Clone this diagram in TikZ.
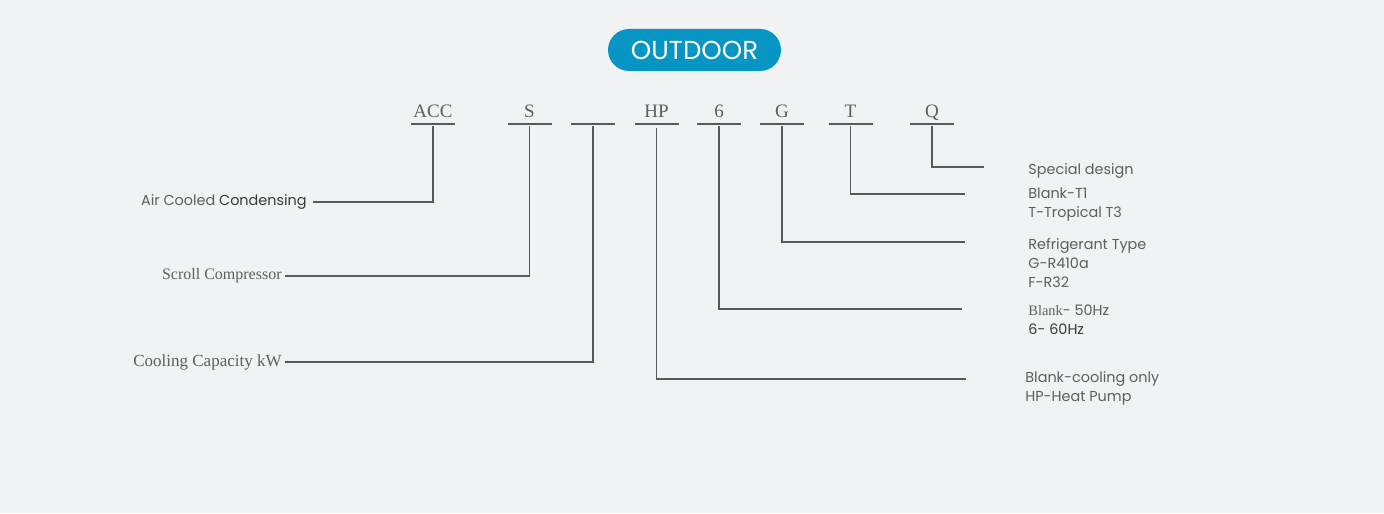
\documentclass[tikz,border=0pt]{standalone}
\usepackage{fontspec}
\setmainfont{Liberation Serif}
\setsansfont{Poppins}
\usetikzlibrary{calc,positioning}
\definecolor{bggrey}{HTML}{F1F2F4}
\definecolor{pillblue}{HTML}{0796C3}
\definecolor{linegrey}{HTML}{595959}
\definecolor{txtgrey}{HTML}{5E5E5E}
\definecolor{darkgrey}{HTML}{3A3A3A}
\tikzset{
  bar/.style={fill=linegrey, inner sep=0pt, minimum width=22pt, minimum height=1pt},
  codetxt/.style={font=\fontsize{9.5}{10}\selectfont, text=txtgrey, inner sep=0pt, anchor=base},
  lead/.style={draw=linegrey, line width=0.7pt},
  lefttxt/.style={anchor=east, inner sep=1.5pt, text=txtgrey},
  righttxt/.style={anchor=west, inner sep=0pt, text=txtgrey, align=left,
    font=\sffamily\fontsize{7.2}{9.5}\selectfont},
}

\begin{document}
\begin{tikzpicture}[x=0.5pt, y=-0.5pt]
			%%%%% START %%%%%
			
			\fill[bggrey] (0, 0) rectangle (1384, 513);
			\useasboundingbox (0, 0) rectangle (1384, 513);
			
			\node[fill=pillblue, rounded corners=10.5pt, minimum width=86.5pt, minimum height=21pt,
			  inner sep=0pt, text=white, font=\sffamily\fontsize{13}{13}\selectfont] (outdoor) at (694.5, 50) {OUTDOOR};
			
			% bars under the code letters
			\foreach \name/\x in {acc/433, s/529.5, blank/593, hp/656.5, six/719, g/782, t/850.5, q/932}
			  \node[bar] (b\name) at (\x, 124.5) {};
			
			\foreach \name/\txt in {acc/ACC, s/S, hp/HP, six/6, g/G, t/T, q/Q}
			  \node[codetxt] (\name) at ($(b\name.north)+(0, -5.5)$) {\txt};
			
			% left side
			\node[lefttxt, inner sep=3pt, font=\sffamily\fontsize{7.2}{9}\selectfont] (aircooled) at (313, 202) {Air Cooled \textcolor{darkgrey}{Condensing}};
			\node[lefttxt, font=\fontsize{8}{9}\selectfont] (scroll) at (285, 276) {Scroll Compressor};
			\node[lefttxt, font=\fontsize{8.5}{9}\selectfont] (capacity) at (285, 362) {Cooling Capacity kW};
			
			\draw[lead] (bacc.south) |- (aircooled.east);
			\draw[lead] (bs.south) |- (scroll.east);
			\draw[lead] (bblank.south) |- (capacity.east);
			
			% right side
			\node[righttxt] (lq) at (1028, 171) {Special design};
			\node[righttxt] (lt) at (1028, 204.5) {Blank-T1\\T-Tropical T3};
			\node[righttxt] (lg) at (1028, 263) {Refrigerant Type\\G-R410a\\F-R32};
			\node[righttxt] (lsix) at (1028, 319.5) {{\rmfamily Blank}- 50Hz\\\textcolor{darkgrey}{6- 60Hz}};
			\node[righttxt] (lhp) at (1025, 388.5) {Blank-cooling only\\HP-Heat Pump};
			
			\coordinate (eq) at (984, 167);
			\coordinate (et) at (965, 194);
			\coordinate (eg) at (965, 242);
			\coordinate (esix) at (962, 309);
			\coordinate (ehp) at (966, 379);
			
			\draw[lead] (bq.south) |- (eq);
			\draw[lead] (bt.south) |- (et);
			\draw[lead] (bg.south) |- (eg);
			\draw[lead] (bsix.south) |- (esix);
			\draw[lead] ($(bhp.south)+(0, 2)$) |- (ehp);
			
			%%%%% END %%%%%
		\end{tikzpicture}
\end{document}
